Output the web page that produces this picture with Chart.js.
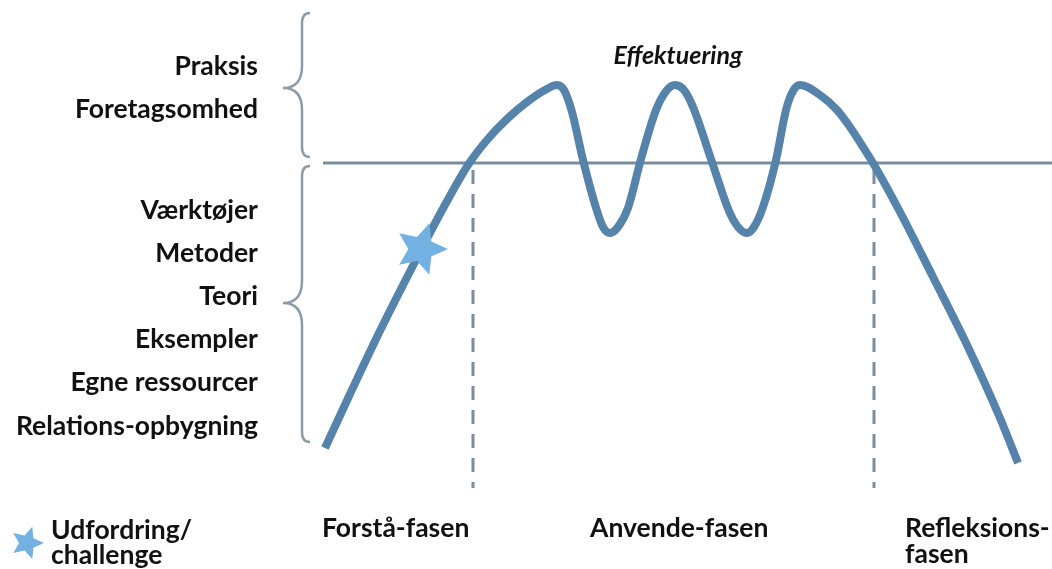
<!DOCTYPE html>
<html>
<head>
<meta charset="utf-8">
<script src="https://cdn.jsdelivr.net/npm/chart.js@4.4.0/dist/chart.umd.min.js"></script>
<style>
html, body { margin: 0; padding: 0; background: #fff; }
#wrap { width: 1052px; height: 569px; position: relative; }
</style>
</head>
<body>
<div id="wrap"><canvas id="chart"></canvas></div>
<script>
// learning curve (x across, y counted down from the top)
let curveX = [325, 350, 377, 400, 421, 446, 468, 487, 507, 527, 545, 557, 564, 572, 583, 597, 603, 610, 618, 628, 641, 656, 667, 675, 684, 693, 711, 729, 738, 747, 754, 763, 776, 786, 793, 800, 820, 837, 850, 863, 873, 900, 933, 967, 1000, 1018];
let curveY = [448, 394, 337, 291, 250, 203, 165, 140, 119, 102, 90, 85, 90, 112, 160, 211, 227, 233, 227, 208, 159, 110, 90, 85, 90, 107, 159, 211, 227, 233, 227, 207, 160, 110, 91, 85, 95, 110, 127, 147, 163, 212, 277, 345, 418, 463];

// threshold line and phase dividers
let thresholdX = [323, 1052];
let thresholdY = 163;
let dividerX = [473, 874];
let dividerY = [170, 488];

// challenge star
let starX = 421;
let starY = 249;

// texts
let leftLabels = ["Praksis", "Foretagsomhed", "Værktøjer", "Metoder", "Teori", "Eksempler", "Egne ressourcer", "Relations-opbygning"];
let phaseLabels = [["Forstå-fasen"], ["Anvende-fasen"], ["Refleksions-", "fasen"]];
let topLabel = "Effektuering";
let legendLabel = ["Udfordring/", "challenge"];

const curveColor = "#5683aa";
const starColor = "#74b1e3";
const lineColor = "#7b8d9d";
const braceColor = "#8d9cab";
const textColor = "#111111";

function makeStar(r) {
    const c = document.createElement("canvas");
    const s = Math.ceil(r * 2 + 4);
    c.width = s;
    c.height = s;
    const g = c.getContext("2d");
    g.fillStyle = starColor;
    g.beginPath();
    for (let i = 0; i < 10; i++) {
        const a = i * Math.PI / 5;
        const rr = i % 2 === 0 ? r : r * 0.47;
        g.lineTo(s / 2 + rr * Math.cos(a), s / 2 + rr * Math.sin(a));
    }
    g.closePath();
    g.fill();
    return c;
}

const bigStar = makeStar(27);
const smallStar = makeStar(17);

function drawBrace(ctx, x, top, mid, bottom, tip) {
    ctx.beginPath();
    ctx.moveTo(x + 8, top);
    ctx.quadraticCurveTo(x, top, x, top + 10);
    ctx.lineTo(x, mid - 22);
    ctx.quadraticCurveTo(x, mid, tip, mid);
    ctx.quadraticCurveTo(x, mid, x, mid + 22);
    ctx.lineTo(x, bottom - 10);
    ctx.quadraticCurveTo(x, bottom, x + 8, bottom);
    ctx.stroke();
}

const decorations = {
    id: "decorations",
    beforeDatasetsDraw(chart) {
        const ctx = chart.ctx;
        const sx = chart.scales.x, sy = chart.scales.y;
        ctx.save();
        ctx.strokeStyle = braceColor;
        ctx.lineWidth = 2.5;
        drawBrace(ctx, sx.getPixelForValue(302), sy.getPixelForValue(13), sy.getPixelForValue(88), sy.getPixelForValue(157), sx.getPixelForValue(283));
        drawBrace(ctx, sx.getPixelForValue(302), sy.getPixelForValue(166), sy.getPixelForValue(303), sy.getPixelForValue(442), sx.getPixelForValue(283));
        ctx.restore();
    },
    afterDraw(chart) {
        const ctx = chart.ctx;
        const sx = chart.scales.x, sy = chart.scales.y;
        ctx.save();
        ctx.fillStyle = textColor;
        ctx.font = "bold 26.5px Lato";
        ctx.textAlign = "right";
        ctx.textBaseline = "alphabetic";
        let leftY = [75, 118, 219, 262, 305, 348, 391, 435];
        leftLabels.forEach((t, i) => {
            ctx.fillText(t, sx.getPixelForValue(258), sy.getPixelForValue(leftY[i]));
        });

        ctx.textAlign = "left";
        let phaseX = [322, 590, 905];
        phaseLabels.forEach((lines, i) => {
            lines.forEach((t, j) => {
                ctx.fillText(t, sx.getPixelForValue(phaseX[i]), sy.getPixelForValue(537 + j * 26));
            });
        });
        legendLabel.forEach((t, j) => {
            ctx.fillText(t, sx.getPixelForValue(51), sy.getPixelForValue(539 + j * 25));
        });
        ctx.drawImage(smallStar, sx.getPixelForValue(27) - smallStar.width / 2, sy.getPixelForValue(543) - smallStar.height / 2);

        ctx.font = "italic bold 25px Lato";
        ctx.textAlign = "center";
        ctx.fillText(topLabel, sx.getPixelForValue(678), sy.getPixelForValue(64));
        ctx.restore();
    }
};

let curve = curveX.map((x, i) => ({ x: x, y: curveY[i] }));

let datasets = [
    {
        data: [{ x: starX, y: starY }],
        showLine: false,
        pointStyle: bigStar,
        pointRadius: 20
    },
    {
        data: curve,
        borderColor: curveColor,
        borderWidth: 8,
        cubicInterpolationMode: "monotone",
        pointRadius: 0,
        fill: false
    },
    {
        data: thresholdX.map(x => ({ x: x, y: thresholdY })),
        borderColor: lineColor,
        borderWidth: 3,
        pointRadius: 0
    }
];
dividerX.forEach(x => {
    datasets.push({
        data: dividerY.map(y => ({ x: x, y: y })),
        borderColor: lineColor,
        borderWidth: 3,
        borderDash: [14, 10],
        pointRadius: 0
    });
});

new Chart(document.getElementById("chart"), {
    type: "line",
    data: { datasets: datasets },
    options: {
        responsive: true,
        maintainAspectRatio: false,
        animation: false,
        layout: { padding: 0, autoPadding: false },
        plugins: { legend: { display: false }, tooltip: { enabled: false } },
        scales: {
            x: { type: "linear", min: 0, max: 1052, display: false },
            y: { type: "linear", min: 0, max: 569, reverse: true, display: false }
        }
    },
    plugins: [decorations]
});
</script>
</body>
</html>
